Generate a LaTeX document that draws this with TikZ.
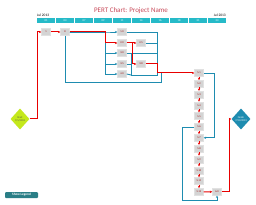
\documentclass[tikz,border=0pt]{standalone}
\usepackage{fontspec}
\setmainfont{Carlito}
\usetikzlibrary{arrows.meta,shapes.geometric}
\definecolor{critred}{RGB}{232,0,0}
\definecolor{flowteal}{RGB}{30,140,176}
\definecolor{cellteal}{RGB}{38,186,200}
\definecolor{titlered}{RGB}{200,72,88}
\definecolor{limeg}{RGB}{196,232,28}
\definecolor{btnteal}{RGB}{42,126,134}
\definecolor{taskgray}{RGB}{212,212,212}
\begin{document}
\begin{tikzpicture}[x=1pt,y=-1pt,
  task/.style={draw=taskgray!70!white, fill=taskgray, minimum width=9, minimum height=7, inner sep=0,
    font=\fontsize{2.6}{3}\selectfont, text=red!60!black},
  cell/.style={fill=cellteal, minimum width=18, minimum height=5, inner sep=0,
    font=\fontsize{2.8}{3}\selectfont, text=white},
  crit/.style={draw=critred, line width=1, -{Stealth[length=2.4pt,width=2.2pt]}},
  flow/.style={draw=flowteal, line width=0.9, -{Stealth[length=2.4pt,width=2.2pt]}},
  bus/.style={draw=flowteal, line width=0.9}]
\useasboundingbox (0,0) rectangle (256,205);
\fill[white] (0,0) rectangle (256,205);
% header
\node[font=\fontsize{7}{8}\selectfont, text=titlered] (title) at (131,10.5) {PERT Chart: Project Name};
\node[font=\fontsize{3.6}{4}\selectfont, anchor=west, inner sep=0] (jl) at (37,15) {Jul 2013};
\node[font=\fontsize{3.6}{4}\selectfont, anchor=east, inner sep=0] (jr) at (226,15) {Jul 2013};
\foreach \i/\d in {0/01,1/03,2/07,3/09,4/11,5/14,6/16,7/18,8/21,9/23}
  \node[cell] (t\i) at ({46+\i*19},20.5) {\d};
% tasks
\node[task] (A) at (46,32) {1};
\node[task] (B) at (65,32) {8};
\node[task] (c1) at (122,32) {1.0};
\node[task] (c2) at (122,43) {2.0};
\node[task] (c3) at (122,53) {3.0};
\node[task] (c4) at (122,64) {3.5};
\node[task] (c5) at (122,74) {4.0};
\node[task] (d1) at (141,43) {2.5};
\node[task] (d2) at (141,64) {3.8};
\foreach \i/\l in {1/5.1,2/5.2,3/5.3,4/5.4,5/5.5,6/5.6,7/5.7,8/5.8,9/5.9,10/5.10,11/5.11,12/5.12}
  \node[task] (r\i) at (199,{73+(\i-1)*10.8}) {\l};
\node[task] (e) at (217,191.8) {6.0};
\node[diamond, fill=limeg, minimum width=19, minimum height=21, inner sep=0, align=center,
  font=\fontsize{2.6}{3}\selectfont, text=black!70] (start) at (20,119) {Start\\7/1/2013};
\node[diamond, fill=flowteal, minimum width=19, minimum height=21, inner sep=0, align=center,
  font=\fontsize{2.6}{3}\selectfont, text=white] (finish) at (241,119) {Finish\\7/23/2013};
\node[fill=btnteal, rounded corners=1, minimum width=33, minimum height=6, inner sep=0,
  font=\bfseries\fontsize{3.4}{4}\selectfont, text=white] (legend) at (21.5,195) {Show Legend};
% junction points
\coordinate (j1) at (157,73);
\coordinate (j2) at (161,73);
\coordinate (j3) at (131,75);
% teal connectors
\draw[flow] (B.east) -- (105,32) |- (c3.west);
\draw[flow] (B.east) -- (105,32) |- (c4.west);
\draw[flow] (B.east) -- (105,32) |- (c5.west);
\draw[flow] (B.east) -- (105,32) -- (c1.west);
\draw[bus] (B.south) |- (161,82) -- (j2);
\draw[bus] (c1.east) -| (j1);
\draw[bus] (d1.east) -- (157,43);
\draw[bus] (c3.east) -- (131,53) -- (j3) -- (157,75) -- (j1);
\draw[bus] (c3.east) -- (157,53);
\draw[bus] (c4.east) -- (131,64);
\draw[bus] (c5.east) -- (j3);
\draw[flow] (r1.east) -- (214,73) |- (r7.east);
\draw[flow] (r6.west) -- (182,127) -- (182,200) -| (e.south);
% critical path
\draw[crit] (start.east) -- (37,119) |- (A.west);
\draw[crit] (A) -- (B);
\draw[crit] (B.east) -- (105,32) |- (c2.west);
\draw[crit] (c2) -- (d1);
\draw[crit] (c2.east) -- (132,43) |- (d2.west);
\draw[crit] (d2.east) -- (157,64) |- (r1.west);
\foreach \i [evaluate=\i as \j using int(\i+1)] in {1,...,11}
  \draw[crit] (r\i) -- (r\j);
\draw[crit] (r12) -- (e);
\draw[crit] (e.east) -- (229,191.8) |- (finish.west);
\end{tikzpicture}
\end{document}
